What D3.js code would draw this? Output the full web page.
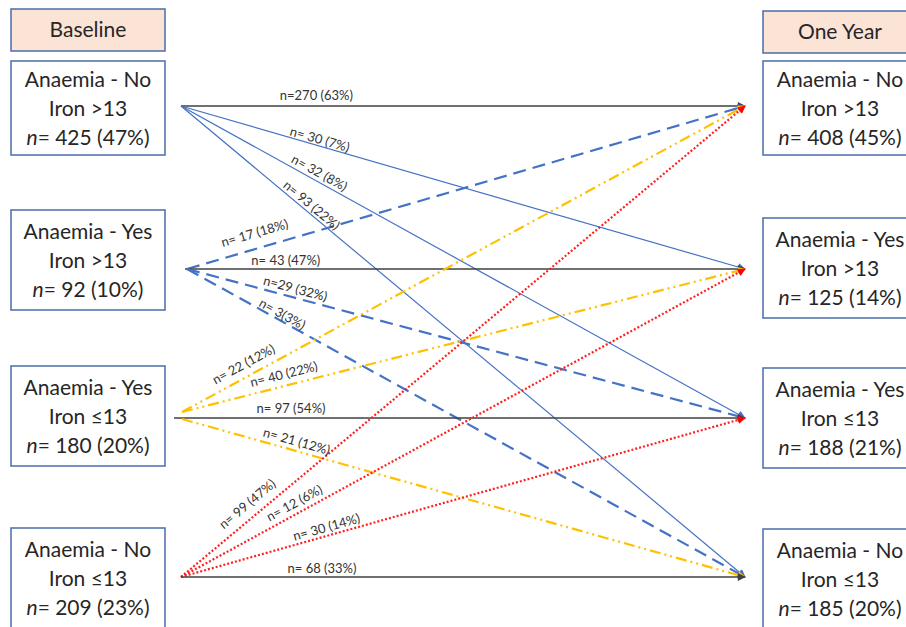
<!DOCTYPE html>
<html>
<head>
  <meta charset="utf-8">
  <title>Anaemia and iron transitions</title>
  <script src="https://cdnjs.cloudflare.com/ajax/libs/d3/7.8.5/d3.min.js"></script>
  <style>
    body { margin: 0; background: #fff; overflow: hidden; }
    svg { display: block; font-family: Lato, "Open Sans", sans-serif; }
    .box { fill: #fff; stroke: #4a6ea8; stroke-width: 1.5px; }
    .head { fill: #fbe3d6; stroke: #4a6ea8; stroke-width: 1.5px; }
    .boxtext { font-size: 21px; fill: #262626; text-anchor: middle; }
    .headtext { font-size: 21px; fill: #262626; text-anchor: middle; }
    .flowlabel { font-size: 13px; fill: #333; text-anchor: middle; }
  </style>
</head>
<body>
  <div id="chart"></div>
  <script>
    // states (rows), same order on both sides
    const states = ["NoA_HiFe", "YesA_HiFe", "YesA_LoFe", "NoA_LoFe"];
    const line1 = ["Anaemia - No", "Anaemia - Yes", "Anaemia - Yes", "Anaemia - No"];
    const line2 = ["Iron >13", "Iron >13", "Iron \u226413", "Iron \u226413"];
    const baselineN = ["425 (47%)", "92 (10%)", "180 (20%)", "209 (23%)"];
    const oneYearN = ["408 (45%)", "125 (14%)", "188 (21%)", "185 (20%)"];

    // flows: row = baseline state, column = one-year state
    const flowLabels = [
      ["n=270 (63%)", "n= 30 (7%)", "n= 32 (8%)", "n= 93 (22%)"],
      ["n= 17 (18%)", "n= 43 (47%)", "n=29 (32%)", "n= 3(3%)"],
      ["n= 22 (12%)", "n= 40 (22%)", "n= 97 (54%)", "n= 21 (12%)"],
      ["n= 99 (47%)", "n= 12 (6%)", "n= 30 (14%)", "n= 68 (33%)"]
    ];

    // label placement along each line (fraction) and lift above it
    const labelT = [
      [0.24, 0.243, 0.238, 0.223],
      [0.129, 0.18, 0.19, 0.165],
      [0.12, 0.186, 0.205, 0.199],
      [0.133, 0.21, 0.262, 0.25]
    ];
    const labelLift = [
      [6, 2, 4, 3],
      [11, 4, 4.5, 2],
      [8, 7, 5, 5],
      [9, 6, 4, 4]
    ];

    const width = 906, height = 627;

    const rowY = d3.scaleOrdinal().domain(states).range([106, 269, 418, 577]);
    const leftBoxMid = d3.scaleOrdinal().domain(states).range([108, 260, 416, 578]);
    const rightBoxMid = d3.scaleOrdinal().domain(states).range([108, 268, 418, 579]);
    const startX = d3.scaleOrdinal().domain(states).range([181, 187, 182, 181]);
    const diagStartX = d3.scaleOrdinal().domain(states).range([181, 185, 174, 181]);
    const endX = 745;

    // style per baseline state
    const lineColor = ["#4472c4", "#4472c4", "#ffc000", "#ff2020"];
    const lineWidth = [1.2, 2.2, 2.2, 2.2];
    const lineDash = [null, "13,7", "11,4,2,4,2,4", "2,2"];
    const diagColor = "#404040";

    const svg = d3.select("#chart").append("svg")
      .attr("width", width)
      .attr("height", height);

    // arrow markers
    const defs = svg.append("defs");
    const markerColors = { blue: "#4472c4", yellow: "#ffc000", red: "#ff0000", black: "#404040" };
    Object.entries(markerColors).forEach(([k, c]) => {
      defs.append("marker")
        .attr("id", "arrow-" + k)
        .attr("viewBox", "0 0 10 10")
        .attr("refX", 9).attr("refY", 5)
        .attr("markerWidth", 10).attr("markerHeight", 8)
        .attr("markerUnits", "userSpaceOnUse")
        .attr("orient", "auto")
        .append("path")
        .attr("d", "M0,0 L10,5 L0,10 z")
        .attr("fill", c);
    });
    const markerKey = ["blue", "blue", "yellow", "red"];

    // build flow list
    const flows = [];
    states.forEach((s, i) => {
      states.forEach((t, j) => {
        const diag = i === j;
        let sy = rowY(s);
        if (i === 2 && !diag) sy += (j < 2 ? -6 : 1);
        flows.push({
          i, j, diag,
          x1: diag ? diagStartX(s) : startX(s),
          y1: sy,
          x2: endX,
          y2: rowY(t),
          label: flowLabels[i][j],
          t: labelT[i][j],
          lift: labelLift[i][j]
        });
      });
    });

    const gLines = svg.append("g");
    gLines.selectAll("line")
      .data(flows)
      .join("line")
      .attr("x1", d => d.x1).attr("y1", d => d.y1)
      .attr("x2", d => d.x2).attr("y2", d => d.y2)
      .attr("stroke", d => d.diag ? diagColor : lineColor[d.i])
      .attr("stroke-width", d => d.diag ? 1.3 : lineWidth[d.i])
      .attr("stroke-dasharray", d => d.diag ? null : lineDash[d.i])
      .attr("marker-end", d => "url(#arrow-" + (d.diag ? "black" : markerKey[d.i]) + ")");

    // flow labels rotated along their lines
    svg.append("g").selectAll("text")
      .data(flows)
      .join("text")
      .attr("class", "flowlabel")
      .attr("transform", d => {
        const x = d.x1 + d.t * (d.x2 - d.x1);
        const y = d.y1 + d.t * (d.y2 - d.y1);
        const a = Math.atan2(d.y2 - d.y1, d.x2 - d.x1) * 180 / Math.PI;
        return `translate(${x},${y}) rotate(${a})`;
      })
      .attr("dy", d => -d.lift)
      .text(d => d.label);

    // boxes
    function drawSide(x, w, headTop, headText, mid, nText, name) {
      const g = svg.append("g").attr("class", name);
      g.append("rect").attr("class", "head")
        .attr("x", x).attr("y", headTop).attr("width", w).attr("height", 42);
      g.append("text").attr("class", "headtext")
        .attr("x", x + w / 2).attr("y", headTop + 28)
        .text(headText);

      const boxH = 94;
      const b = g.selectAll("g.state")
        .data(states)
        .join("g")
        .attr("class", "state")
        .attr("transform", d => `translate(${x},${mid(d) - boxH / 2})`);
      b.append("rect").attr("class", "box")
        .attr("width", w).attr("height", (d, i) => i === 3 ? 110 : (i === 0 ? boxH : 100))
        .attr("y", (d, i) => i === 0 ? 0 : -3);
      const tx = b.append("text").attr("class", "boxtext");
      tx.append("tspan").attr("x", w / 2).attr("y", 26).text((d, i) => line1[i]);
      tx.append("tspan").attr("x", w / 2).attr("y", 55).text((d, i) => line2[i]);
      const t3 = tx.append("tspan").attr("x", w / 2).attr("y", 84);
      t3.append("tspan").attr("font-style", "italic").text("n");
      t3.append("tspan").text((d, i) => "= " + nText[i]);
    }

    drawSide(11, 154, 9, "Baseline", leftBoxMid, baselineN, "left");
    drawSide(763, 154, 11, "One Year", rightBoxMid, oneYearN, "right");
  </script>
</body>
</html>
